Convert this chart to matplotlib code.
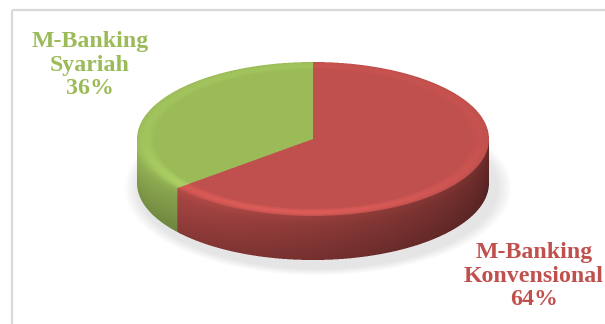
import numpy as np
import matplotlib
matplotlib.use("Agg")
import matplotlib.pyplot as plt
import matplotlib.colors as mcolors

# ---- data ----
categories = ["M-Banking\nSyariah", "M-Banking\nKonvensional"]
shares = [36, 64]
colors = ["#9BBB59", "#C0504D"]

# ---- figure ----
W, H = 605, 324
fig = plt.figure(figsize=(W / 100, H / 100), dpi=100)
ax = fig.add_axes([0, 0, 1, 1])
ax.set_xlim(0, W)
ax.set_ylim(H, 0)
ax.axis("off")

# frame of the chart area
ax.plot([11.5, W], [9.5, 9.5], color="#D9D9D9", lw=1.6, solid_capstyle="butt", zorder=1)
ax.plot([11.5, 11.5], [9.5, H], color="#D9D9D9", lw=1.6, solid_capstyle="butt", zorder=1)

cx, cy, a, b, depth = 313, 139, 176, 77, 44

# slice angle ranges (start at top, counter-clockwise), in degrees
total = float(sum(shares))
bounds = [90.0]
for v in shares:
    bounds.append(bounds[-1] + 360.0 * v / total)
bases = [np.array(mcolors.to_rgb(c)) for c in colors]


def slice_index(theta):
    t = (theta - 90.0) % 360.0 + 90.0
    idx = np.zeros(t.shape, dtype=int)
    for i in range(len(shares)):
        idx[(t >= bounds[i]) & (t < bounds[i + 1])] = i
    return idx


# ---- render the 3D pie as a supersampled RGBA image ----
SS = 3
x0, x1, y0, y1 = 120, 510, 50, 282
xs = x0 + (np.arange((x1 - x0) * SS) + 0.5) / SS
ys = y0 + (np.arange((y1 - y0) * SS) + 0.5) / SS
X, Y = np.meshgrid(xs, ys)
img = np.zeros(X.shape + (4,))

# soft shadow
rs = np.sqrt(((X - cx - 5) / (a + 4)) ** 2 + ((Y - cy - depth - 5) / (b + 4)) ** 2)
sh_alpha = 0.22 * np.clip((1.08 - rs) / 0.08, 0, 1)
img[..., :3] = 0.55
img[..., 3] = sh_alpha

# side wall
u = (X - cx) / a
inside_u = np.abs(u) <= 1
uc = np.clip(u, -1, 1)
ytop = cy + b * np.sqrt(1 - uc ** 2)
side = inside_u & (Y >= ytop - 0.5) & (Y <= ytop + depth)
theta_side = 360.0 - np.degrees(np.arccos(uc))
tt = np.clip((Y - ytop) / depth, 0, 1)
idx_s = slice_index(theta_side)
fa = 0.98 - 0.47 * (theta_side - 180.0) / 180.0
fv = np.where(tt < 0.18, 1.08 - 0.5 * tt, 0.99 - 0.22 * (tt - 0.18))
side_col = np.zeros(X.shape + (3,))
for i, base in enumerate(bases):
    m = idx_s == i
    side_col[m] = base[None, :] * (fa[m] * fv[m])[:, None]
side_col = np.clip(side_col, 0, 1)
img[side, :3] = side_col[side]
img[side, 3] = 1.0

# top face
dxn = (X - cx) / a
dyn = (Y - cy) / b
r = np.sqrt(dxn ** 2 + dyn ** 2)
top = r <= 1.0
phi = np.degrees(np.arctan2(-dyn, dxn))
idx_t = slice_index(phi)
front = np.clip(dyn, 0, None) / np.maximum(r, 1e-6)
r0 = 0.9
s = np.clip((r - r0) / (1 - r0), 0, 1)
hl = 1.0 + 0.15 * np.sin(np.pi * s) * (0.3 + 0.7 * front) * (1 - 0.4 * np.clip(dxn, 0, 1))
top_col = np.zeros(X.shape + (3,))
for i, base in enumerate(bases):
    m = idx_t == i
    top_col[m] = base[None, :] * hl[m][:, None]
top_col = np.clip(top_col, 0, 1)
img[top, :3] = top_col[top]
img[top, 3] = 1.0

# downsample (anti-alias)
hh, ww = (y1 - y0), (x1 - x0)
rgba = img.reshape(hh, SS, ww, SS, 4)
alpha = rgba[..., 3].mean(axis=(1, 3))
rgb = (rgba[..., :3] * rgba[..., 3:4]).mean(axis=(1, 3)) / np.maximum(alpha[..., None], 1e-6)
out = np.concatenate([np.clip(rgb, 0, 1), alpha[..., None]], axis=-1)
ax.imshow(out, extent=(x0, x1, y1, y0), interpolation="nearest", zorder=2, aspect="auto")

# labels
label_pos = [(90, 65), (534, 276)]
for cat, v, col, (lx, ly) in zip(categories, shares, colors, label_pos):
    ax.text(lx, ly, f"{cat}\n{v}%", color=col, ha="center", va="center",
            multialignment="center", fontsize=17.2, fontweight="bold",
            family=["Liberation Serif", "DejaVu Serif"], linespacing=1.15,
            zorder=5)

fig.savefig("out.png", dpi=100)
